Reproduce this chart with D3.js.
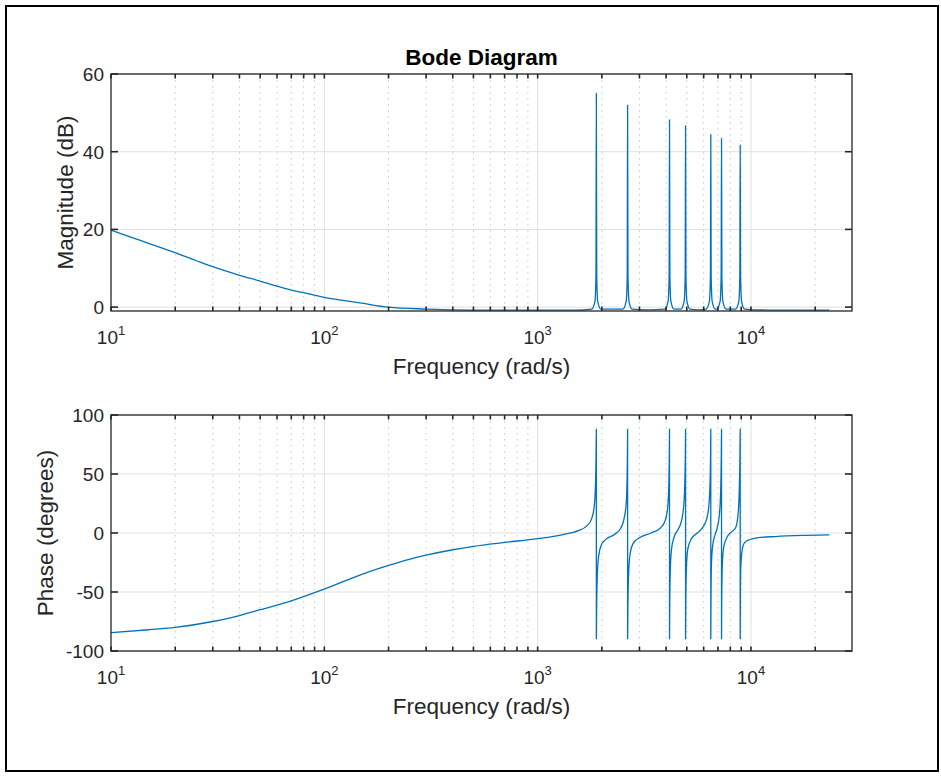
<!DOCTYPE html>
<html>
<head>
<meta charset="utf-8">
<script src="https://cdn.jsdelivr.net/npm/d3@7"></script>
<style>
  body { margin: 0; background: #fff; }
  text { font-family: "Liberation Sans", Arial, Helvetica, sans-serif; fill: #262626; }
</style>
</head>
<body>
<div id="chart"></div>
<script>
// ---- data ----
const decadeTicks = [10, 100, 1000, 10000];
const magTicks = [0, 20, 40, 60];
const phaseTicks = [-100, -50, 0, 50, 100];

// magnitude (dB) vs frequency (rad/s)
const magW = [10, 12, 15, 20, 25, 30, 40, 50, 60, 70, 80, 100, 120, 150, 200, 300, 400, 600, 1000, 1500,
  1790, 1856, 1876, 1884, 1892, 1912, 1978,
  2508, 2600, 2629, 2640, 2651, 2680, 2772,
  3300,
  3943, 4088, 4133, 4150, 4167, 4212, 4358,
  4688, 4861, 4915, 4935, 4955, 5009, 5182,
  5700,
  6156, 6383, 6454, 6480, 6506, 6577, 6804,
  6911, 7166, 7246, 7275, 7304, 7384, 7639,
  8455, 8767, 8864, 8900, 8936, 9034, 9345,
  12000, 23300];
const magDb = [19.8, 18.3, 16.4, 14.0, 12.0, 10.4, 8.2, 6.7, 5.4, 4.4, 3.7, 2.5, 1.8, 1.0, 0.0, -0.5, -0.7, -0.8, -0.8, -0.8,
  -0.5, 1.5, 8, 55.0, 8, 1.5, -0.5,
  -0.5, 1.5, 8, 52.0, 8, 1.5, -0.5,
  -0.7,
  -0.5, 1.5, 8, 48.2, 8, 1.5, -0.5,
  -0.5, 1.5, 8, 46.7, 8, 1.5, -0.5,
  -0.7,
  -0.5, 1.5, 8, 44.4, 8, 1.5, -0.5,
  -0.5, 1.5, 8, 43.4, 8, 1.5, -0.5,
  -0.5, 1.5, 8, 41.7, 8, 1.5, -0.5,
  -0.75, -0.75];

// phase (degrees) vs frequency (rad/s)
const phaseW = [10, 15, 20, 30, 40, 50, 70, 100, 150, 200, 250, 300, 400, 500, 700, 1000, 1300, 1550, 1700, 1790, 1840, 1866, 1878, 1884,
  1884.5, 1890, 1902, 1930, 1990, 2100, 2300, 2450, 2540, 2600, 2625, 2636, 2640,
  2640.5, 2648, 2665, 2710, 2800, 3000, 3400, 3750, 3950, 4060, 4115, 4140, 4150,
  4150.5, 4160, 4185, 4240, 4350, 4550, 4720, 4840, 4900, 4926, 4935,
  4935.5, 4946, 4975, 5050, 5250, 5600, 5950, 6200, 6360, 6440, 6470, 6480,
  6480.5, 6493, 6530, 6620, 6800, 6980, 7130, 7220, 7260, 7275,
  7275.5, 7290, 7335, 7450, 7700, 8100, 8450, 8680, 8810, 8870, 8900,
  8900.5, 8915, 8960, 9100, 9350, 9900, 10800, 13000, 18000, 23300];
const phaseDeg = [-84.5, -82, -80, -75, -70, -65, -57.5, -47.5, -35, -27.5, -22.3, -18.8, -14.2, -11.3, -8, -4.8, -1.5, 2, 6, 12, 22, 40, 65, 88,
  -90, -65, -38, -20, -10, -5, -1, 4, 12, 25, 45, 70, 88,
  -90, -65, -38, -18, -9, -4, 0, 4, 10, 20, 38, 65, 88,
  -90, -62, -32, -14, -4, 3, 10, 24, 45, 70, 88,
  -90, -62, -32, -14, -5, 0, 5, 12, 25, 48, 72, 88,
  -90, -58, -25, -10, -1, 6, 18, 40, 68, 88,
  -90, -60, -28, -12, -4, 1, 4, 14, 36, 62, 88,
  -90, -58, -28, -14, -8, -5.5, -4, -3, -2, -1.5];

// ---- layout ----
const W = 941, H = 776;
const left = 111, right = 852;
const xMax = 29750;

const svg = d3.select("#chart").append("svg")
  .attr("width", W).attr("height", H);

svg.append("rect").attr("width", W).attr("height", H).attr("fill", "#fff");
svg.append("rect")
  .attr("x", 6).attr("y", 6).attr("width", 932).attr("height", 765)
  .attr("fill", "none").attr("stroke", "#000").attr("stroke-width", 2);

const x = d3.scaleLog().domain([10, xMax]).range([left, right]);

// minor positions 2..9 in each decade
const minorTicks = [];
decadeTicks.forEach(d => {
  for (let m = 2; m <= 9; m++) {
    const v = d * m;
    if (v < xMax) minorTicks.push(v);
  }
});

function panel(opt) {
  const g = svg.append("g");
  const y = d3.scaleLinear().domain(opt.domain).range([opt.bottom, opt.top]);

  // grid
  g.selectAll(".minor").data(minorTicks).enter().append("line")
    .attr("x1", d => x(d)).attr("x2", d => x(d))
    .attr("y1", opt.top).attr("y2", opt.bottom)
    .attr("stroke", "#c8c8c8").attr("stroke-width", 1)
    .attr("stroke-dasharray", "1.5,4.5");
  g.selectAll(".major").data(decadeTicks.slice(1)).enter().append("line")
    .attr("x1", d => x(d)).attr("x2", d => x(d))
    .attr("y1", opt.top).attr("y2", opt.bottom)
    .attr("stroke", "#e1e1e1").attr("stroke-width", 1);
  g.selectAll(".hgrid").data(opt.ticks).enter().append("line")
    .attr("x1", left).attr("x2", right)
    .attr("y1", d => y(d)).attr("y2", d => y(d))
    .attr("stroke", "#e1e1e1").attr("stroke-width", 1);

  // curve
  const clipId = "clip" + opt.top;
  svg.append("clipPath").attr("id", clipId).append("rect")
    .attr("x", left).attr("y", opt.top).attr("width", right - left).attr("height", opt.bottom - opt.top);
  const line = d3.line().curve(d3.curveMonotoneX).x(d => x(d[0])).y(d => y(d[1]));
  g.append("path")
    .datum(d3.zip(opt.w, opt.v))
    .attr("clip-path", "url(#" + clipId + ")")
    .attr("fill", "none").attr("stroke", "#0072BD").attr("stroke-width", 1.3)
    .attr("d", line);

  // box
  g.append("rect")
    .attr("x", left).attr("y", opt.top).attr("width", right - left).attr("height", opt.bottom - opt.top)
    .attr("fill", "none").attr("stroke", "#262626").attr("stroke-width", 1.3);

  // x ticks, top and bottom, pointing inside
  const xt = decadeTicks.concat(minorTicks);
  [[opt.bottom, -4.5], [opt.top, 4.5]].forEach(([yy, len]) => {
    g.selectAll(null).data(xt).enter().append("line")
      .attr("x1", d => x(d)).attr("x2", d => x(d))
      .attr("y1", yy).attr("y2", yy + len)
      .attr("stroke", "#262626").attr("stroke-width", 1.6);
  });
  // y ticks, left and right
  [[left, 7], [right, -7]].forEach(([xx, len]) => {
    g.selectAll(null).data(opt.ticks).enter().append("line")
      .attr("x1", xx).attr("x2", xx + len)
      .attr("y1", d => y(d)).attr("y2", d => y(d))
      .attr("stroke", "#262626").attr("stroke-width", 1.6);
  });

  // y tick labels
  g.selectAll(null).data(opt.ticks).enter().append("text")
    .attr("x", left - 7).attr("y", d => y(d)).attr("dy", "0.36em")
    .attr("text-anchor", "end").style("font-size", "19px")
    .text(d => d);

  // x tick labels 10^n
  const xl = g.selectAll(null).data(decadeTicks).enter().append("text")
    .attr("x", d => x(d)).attr("y", opt.bottom + 33)
    .attr("text-anchor", "middle").style("font-size", "19px");
  xl.append("tspan").text("10");
  xl.append("tspan").attr("dy", -9).style("font-size", "13px").text(d => Math.round(Math.log10(d)));

  g.append("text")
    .attr("x", (left + right) / 2).attr("y", opt.bottom + 63)
    .attr("text-anchor", "middle").style("font-size", "22.5px")
    .text("Frequency (rad/s)");

  g.append("text")
    .attr("transform", `translate(${opt.labelX},${(opt.top + opt.bottom) / 2}) rotate(-90)`)
    .attr("text-anchor", "middle").style("font-size", "22.5px")
    .text(opt.label);
}

panel({ top: 74, bottom: 311, domain: [-1, 60], ticks: magTicks, w: magW, v: magDb,
  label: "Magnitude (dB)", labelX: 73 });
panel({ top: 415, bottom: 651, domain: [-100, 100], ticks: phaseTicks, w: phaseW, v: phaseDeg,
  label: "Phase (degrees)", labelX: 53 });

svg.append("text")
  .attr("x", (left + right) / 2).attr("y", 65)
  .attr("text-anchor", "middle").style("font-size", "22.5px").style("font-weight", "bold")
  .style("fill", "#000")
  .text("Bode Diagram");
</script>
</body>
</html>
